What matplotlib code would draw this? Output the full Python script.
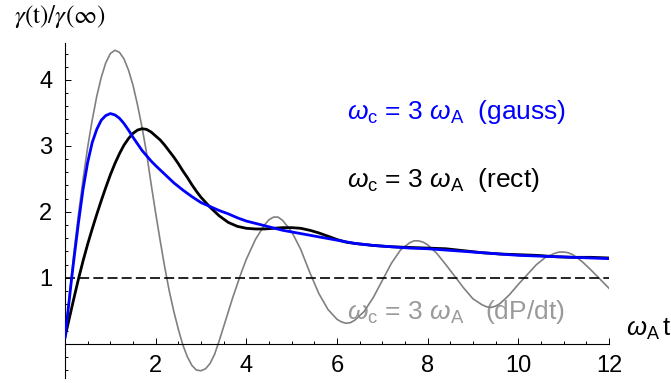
import matplotlib
matplotlib.use("Agg")
import matplotlib.pyplot as plt
from matplotlib.ticker import MultipleLocator

plt.rcParams["font.family"] = ["Liberation Sans", "DejaVu Sans"]
plt.rcParams["mathtext.fontset"] = "custom"
plt.rcParams["mathtext.rm"] = "Liberation Sans"
plt.rcParams["mathtext.it"] = "Liberation Sans:italic"

# 1. Values
t_dpdt = [0.0, 0.1, 0.2, 0.3, 0.4, 0.5, 0.6, 0.7, 0.8, 0.9, 1.0, 1.1, 1.2, 1.3,
          1.4, 1.5, 1.6, 1.7, 1.8, 1.9, 2.0, 2.1, 2.2, 2.3, 2.4, 2.5, 2.6, 2.7,
          2.8, 2.9, 3.0, 3.1, 3.2, 3.3, 3.4, 3.5, 3.6, 3.7, 3.8, 3.9, 4.0, 4.2,
          4.4, 4.5, 4.6, 4.7, 4.8, 5.0, 5.2, 5.4, 5.6, 5.8, 6.0, 6.1, 6.2, 6.3,
          6.4, 6.6, 6.8, 7.0, 7.2, 7.4, 7.6, 7.7, 7.8, 7.9, 8.0, 8.2, 8.4, 8.6,
          8.8, 9.0, 9.2, 9.3, 9.4, 9.5, 9.6, 9.8, 10.0, 10.2, 10.4, 10.6, 10.8,
          10.9, 11.0, 11.1, 11.2, 11.4, 11.6, 11.8, 12.0]
g_dpdt = [0.10, 0.75, 1.40, 1.98, 2.50, 2.98, 3.39, 3.75, 4.04, 4.26, 4.40, 4.45,
          4.42, 4.32, 4.15, 3.92, 3.62, 3.28, 2.89, 2.42, 1.98, 1.56, 1.16, 0.80,
          0.49, 0.22, -0.02, -0.20, -0.33, -0.40, -0.41, -0.38, -0.30, -0.16,
          0.04, 0.26, 0.48, 0.70, 0.90, 1.10, 1.28, 1.58, 1.80, 1.88, 1.92, 1.92,
          1.87, 1.70, 1.43, 1.08, 0.76, 0.52, 0.37, 0.33, 0.31, 0.32, 0.36, 0.49,
          0.70, 0.96, 1.22, 1.42, 1.53, 1.56, 1.56, 1.54, 1.50, 1.37, 1.20, 1.02,
          0.84, 0.68, 0.59, 0.56, 0.55, 0.57, 0.61, 0.74, 0.90, 1.05, 1.20, 1.31,
          1.37, 1.39, 1.39, 1.38, 1.35, 1.25, 1.12, 0.98, 0.84]

t_rect = [0.0, 0.1, 0.2, 0.3, 0.4, 0.5, 0.6, 0.7, 0.8, 0.9, 1.0, 1.1, 1.2, 1.3,
          1.4, 1.5, 1.6, 1.7, 1.8, 1.9, 2.0, 2.1, 2.2, 2.3, 2.4, 2.5, 2.6, 2.7,
          2.8, 2.9, 3.0, 3.2, 3.4, 3.6, 3.8, 4.0, 4.2, 4.4, 4.6, 4.8, 5.0, 5.2,
          5.4, 5.6, 5.8, 6.0, 6.2, 6.4, 6.8, 7.2, 7.6, 8.0, 8.4, 8.8, 9.2, 9.6,
          10.0, 10.4, 10.8, 11.2, 11.6, 12.0]
g_rect = [0.10, 0.40, 0.70, 0.99, 1.26, 1.51, 1.74, 1.96, 2.17, 2.37, 2.56, 2.73,
          2.88, 3.01, 3.11, 3.19, 3.24, 3.26, 3.25, 3.21, 3.15, 3.09, 3.01, 2.92,
          2.83, 2.73, 2.62, 2.52, 2.41, 2.31, 2.22, 2.07, 1.94, 1.84, 1.78, 1.75,
          1.74, 1.74, 1.75, 1.76, 1.76, 1.75, 1.72, 1.68, 1.63, 1.58, 1.54, 1.52,
          1.49, 1.47, 1.46, 1.45, 1.44, 1.41, 1.38, 1.36, 1.35, 1.34, 1.32, 1.31,
          1.31, 1.30]

t_gauss = [0.0, 0.05, 0.1, 0.15, 0.2, 0.3, 0.4, 0.5, 0.6, 0.7, 0.8, 0.9, 1.0,
           1.1, 1.2, 1.3, 1.4, 1.5, 1.6, 1.7, 1.8, 1.9, 2.0, 2.2, 2.4, 2.6, 2.8,
           3.0, 3.2, 3.4, 3.6, 3.8, 4.0, 4.4, 4.8, 5.2, 5.6, 6.0, 6.4, 6.8, 7.2,
           7.6, 8.0, 8.4, 8.8, 9.2, 9.6, 10.0, 10.4, 10.8, 11.2, 11.6, 12.0]
g_gauss = [0.10, 0.40, 0.70, 1.01, 1.30, 1.85, 2.35, 2.75, 3.05, 3.25, 3.39, 3.46,
           3.49, 3.47, 3.42, 3.34, 3.24, 3.13, 3.03, 2.93, 2.85, 2.77, 2.70, 2.57,
           2.44, 2.33, 2.23, 2.14, 2.08, 2.02, 1.97, 1.91, 1.86, 1.79, 1.72, 1.67,
           1.62, 1.57, 1.52, 1.49, 1.47, 1.45, 1.44, 1.42, 1.40, 1.38, 1.36, 1.34,
           1.33, 1.32, 1.31, 1.30, 1.29]

x_ticks = [2, 4, 6, 8, 10, 12]
y_ticks = [1, 2, 3, 4]

# 2. Figure and axes laid out like the original
fig = plt.figure(figsize=(6.71, 3.83), dpi=100)
ax = fig.add_axes([65 / 671, 5 / 383, 544 / 671, 335 / 383])
ax.set_xlim(0, 12)
ax.set_ylim(-0.52, 4.56)

ax.spines["top"].set_visible(False)
ax.spines["right"].set_visible(False)
ax.spines["bottom"].set_position(("data", 0))
ax.spines["left"].set_linewidth(0.8)
ax.spines["bottom"].set_linewidth(0.8)

ax.set_xticks(x_ticks)
ax.set_yticks(y_ticks)
ax.xaxis.set_minor_locator(MultipleLocator(0.5))
ax.yaxis.set_minor_locator(MultipleLocator(0.2))
ax.tick_params(which="both", direction="in", labelsize=17, width=0.7)
ax.tick_params(which="major", length=4)
ax.tick_params(which="minor", length=2.2)
ax.tick_params(axis="x", pad=8)
ax.tick_params(axis="y", pad=9)

# 3. Curves
ax.plot(t_dpdt, g_dpdt, color="#808080", lw=1.2, zorder=2)
ax.axhline(1, color="black", lw=1.2, ls=(0, (6, 2.5)), zorder=2)
ax.plot(t_rect, g_rect, color="black", lw=2.0, zorder=3)
ax.plot(t_gauss, g_gauss, color="#0000ff", lw=2.0, zorder=4)

# 4. Labels
lab_size = 19
ax.text(6.23, 3.51, r"$\omega_{\rm c}$ = 3 $\omega_{\rm A}$  (gauss)",
        color="#0000ff", fontsize=lab_size, va="center", ha="left")
ax.text(6.23, 2.49, r"$\omega_{\rm c}$ = 3 $\omega_{\rm A}$  (rect)",
        color="black", fontsize=lab_size, va="center", ha="left")
ax.text(6.23, 0.48, r"$\omega_{\rm c}$ = 3 $\omega_{\rm A}$   (dP/dt)",
        color="#9a9a9a", fontsize=lab_size, va="center", ha="left", zorder=1)
ax.text(12.38, 0.02, r"$\omega_{\rm A}\,$t", fontsize=18.5, va="bottom",
        ha="left", clip_on=False)
fig.text(14 / 671, 1 - 17 / 383, r"$\gamma\mathrm{(t)/}\gamma\mathrm{(}\infty\mathrm{)}$",
         fontsize=18, math_fontfamily="stix", va="center", ha="left")

plt.savefig("out.png", dpi=100)
